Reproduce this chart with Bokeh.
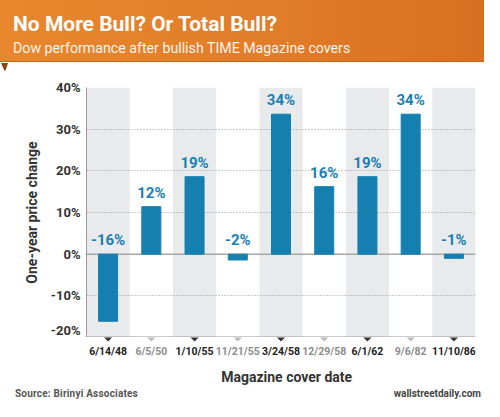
from bokeh.plotting import figure
from bokeh.layouts import column
from bokeh.models import (ColumnDataSource, LabelSet, Label, Span, Range1d, Div,
                          FixedTicker, PrintfTickFormatter)
from bokeh.embed import file_html
from bokeh.resources import INLINE
from bokeh.core.properties import value

# ---- data ----
dates = ["6/14/48", "6/5/50", "1/10/55", "11/21/55", "3/24/58",
         "12/29/58", "6/1/62", "9/6/82", "11/10/86"]
changes = [-16.1, 11.4, 18.6, -1.4, 33.6, 16.2, 18.6, 33.6, -1.0]
change_labels = ["-16%", "12%", "19%", "-2%", "34%", "16%", "19%", "34%", "-1%"]
y_ticks = [-20, -10, 0, 10, 20, 30, 40]
grid_ticks = [-10, 10, 20, 30, 40]

title = "No More Bull? Or Total Bull?"
subtitle = "Dow performance after bullish TIME Magazine covers"
y_title = "One-year price change"
x_title = "Magazine cover date"
source_note = "Source: Birinyi Associates"
site_note = "wallstreetdaily.com"

# ---- style ----
FONT = "Roboto"
BAR = "#1580b0"
BAND = "#e9eaec"
W = 484
L, R = 86, 9
H_HEAD, H_MAIN, H_TICK, H_FOOT = 70, 267, 48, 16
BANNER_H = 63

shaded = dates[0::2]
tick_colors = ["#222222" if i % 2 == 0 else "#8c8c8c" for i in range(len(dates))]
tri_colors = ["#333333" if i % 2 == 0 else "#bbbbbb" for i in range(len(dates))]

# ---------- header banner ----------
head_html = (
    f'<div style="position:relative;width:{W}px;height:{H_HEAD}px;background:#ffffff;">'
    f'<div style="position:absolute;left:0;top:0;width:{W}px;height:{BANNER_H - 1}px;'
    'border-bottom:1px solid #c9631b;'
    'background:linear-gradient(90deg,#e8872e 0%,#e27e29 50%,#d96f20 100%);"></div>'
    f'<div style="position:absolute;left:1px;top:{BANNER_H}px;width:0;height:0;'
    'border-left:4px solid transparent;border-right:3px solid transparent;'
    'border-top:9px solid #8e4312;"></div>'
    '<div style="position:absolute;left:13px;top:13px;white-space:nowrap;'
    f'font-family:{FONT};font-weight:bold;font-size:21px;line-height:22px;color:#ffffff;">'
    f'{title}</div>'
    '<div style="position:absolute;left:13px;top:40px;white-space:nowrap;'
    f'font-family:{FONT};font-weight:normal;font-size:14.2px;line-height:16px;color:#fdf3ea;">'
    f'{subtitle}</div></div>')
head = Div(text=head_html, width=W, height=H_HEAD, styles={"margin": "0", "padding": "0"})

# ---------- main chart ----------
p = figure(x_range=dates, y_range=(y_ticks[0], y_ticks[-1]), width=W, height=H_MAIN,
           output_backend="svg", toolbar_location=None,
           min_border_left=L, min_border_right=R, min_border_top=17, min_border_bottom=0)
p.outline_line_color = None
p.background_fill_color = "white"
p.border_fill_color = "white"
p.xgrid.grid_line_color = None
p.ygrid.ticker = FixedTicker(ticks=grid_ticks)
p.ygrid.grid_line_color = "#9a9a9a"
p.ygrid.grid_line_dash = "1 2"
p.ygrid.grid_line_width = 1

band = p.vbar(x=shaded, top=y_ticks[-1], bottom=y_ticks[0], width=1.0,
              fill_color=BAND, line_color=None)
band.level = "image"

p.add_layout(Span(location=0, dimension="width", line_color="#a8a8a8",
                  line_width=1.5, level="underlay"))
p.add_layout(Span(location=y_ticks[0], dimension="width", line_color="#9a9a9a",
                  line_width=2))

src = ColumnDataSource(dict(x=dates, top=changes,
                            ly=[max(c, 0) for c in changes], text=change_labels))
p.vbar(x="x", top="top", width=0.44, source=src, fill_color=BAR, line_color=BAR)
p.add_layout(LabelSet(x="x", y="ly", text="text", source=src, y_offset=9,
                      text_align="center", text_baseline="alphabetic",
                      text_font=value(FONT), text_font_size="15px",
                      text_font_style="bold", text_color="#1a7fb3"))

p.yaxis.ticker = FixedTicker(ticks=y_ticks)
p.yaxis.formatter = PrintfTickFormatter(format="%d%%")
p.yaxis.major_label_text_font = FONT
p.yaxis.major_label_text_font_size = "13px"
p.yaxis.major_label_text_font_style = "bold"
p.yaxis.major_label_text_color = "#333333"
p.yaxis.major_label_standoff = 6
p.yaxis.axis_line_color = "#9a9a9a"
p.yaxis.major_tick_line_color = None
p.yaxis.minor_tick_line_color = None
p.yaxis.major_tick_out = 0
p.yaxis.axis_label = y_title
p.yaxis.axis_label_text_font = FONT
p.yaxis.axis_label_text_font_size = "14px"
p.yaxis.axis_label_text_font_style = "bold"
p.yaxis.axis_label_text_color = "#333333"
p.yaxis.axis_label_standoff = 8
p.xaxis.visible = False

# ---------- x tick labels and x title ----------
tk = figure(x_range=p.x_range, y_range=Range1d(0, H_TICK), width=W, height=H_TICK,
            output_backend="svg", toolbar_location=None,
            min_border_left=L, min_border_right=R, min_border_top=0, min_border_bottom=0)
tk.outline_line_color = None
tk.background_fill_color = "white"
tk.border_fill_color = "white"
tk.grid.visible = False
tk.axis.visible = False
tsrc = ColumnDataSource(dict(x=dates, text=dates, col=tick_colors, tri=tri_colors,
                             ty=[H_TICK - 13.5] * len(dates), ay=[H_TICK - 4] * len(dates)))
tk.wedge(x="x", y="ay", radius=7, radius_units="screen", start_angle=45, end_angle=135,
         start_angle_units="deg", end_angle_units="deg", direction="anticlock",
         fill_color="tri", line_color=None, source=tsrc)
tk.add_layout(LabelSet(x="x", y="ty", text="text", source=tsrc,
                       text_align="center", text_baseline="middle",
                       text_font=value(FONT), text_font_size="10.5px", text_font_style="bold",
                       text_color="col"))
tk.add_layout(Label(x=4.63, y=H_TICK - 39, text=x_title, text_font=FONT,
                    text_font_size="14px", text_font_style="bold", text_color="#333333",
                    text_align="center", text_baseline="middle"))

# ---------- footer ----------
foot_html = (
    f'<div style="position:relative;width:{W}px;height:{H_FOOT}px;background:#ffffff;">'
    '<div style="position:absolute;left:15px;top:3px;white-space:nowrap;letter-spacing:0.2px;'
    f'font-family:{FONT};font-weight:bold;font-size:10px;line-height:12px;color:#555555;">'
    f'{source_note}</div>'
    '<div style="position:absolute;right:3px;top:3px;white-space:nowrap;'
    f'font-family:{FONT};font-weight:bold;font-size:10px;line-height:12px;color:#444444;">'
    f'{site_note}</div></div>')
foot = Div(text=foot_html, width=W, height=H_FOOT, styles={"margin": "0", "padding": "0"})

layout = column(head, p, tk, foot, spacing=0)
open("out.html", "w").write(file_html(layout, INLINE))
